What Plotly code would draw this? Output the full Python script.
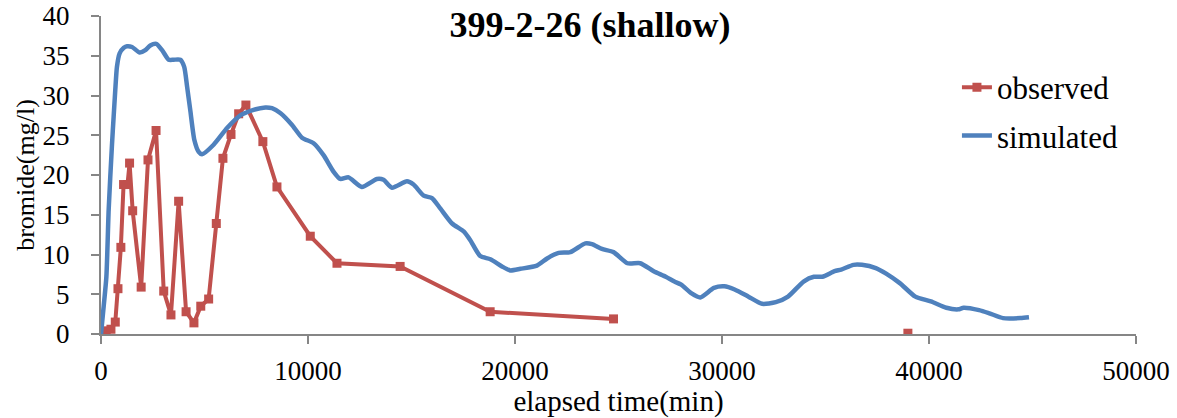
import plotly.graph_objects as go

# Observed data (elapsed time in min, bromide mg/l); None marks a gap in the line
obs_x = [0, 250, 480, 690, 820, 960, 1090, 1280, 1380, 1530, 1940, 2270, 2660, 3030,
         3380, 3750, 4110, 4490, 4820, 5200, 5570, 5890, 6280, 6650, 7000, 7820, 8500,
         10110, 11400, 14450, 18800, 24760, 31000, 38980]
obs_y = [0.2, 0.4, 0.6, 1.5, 5.7, 10.9, 18.8, 18.8, 21.5, 15.5, 5.9, 21.9, 25.6, 5.4,
         2.4, 16.7, 2.8, 1.4, 3.5, 4.4, 13.9, 22.1, 25.1, 27.7, 28.8, 24.2, 18.5,
         12.3, 8.9, 8.5, 2.8, 1.9, None, 0.1]

# Simulated curve
sim_x = [0, 130, 260, 370, 530, 610, 690, 770, 900, 1100, 1260, 1500, 1870, 2140, 2380,
         2670, 2950, 3270, 3510, 3830, 4020, 4160, 4310, 4510, 4720, 4880, 5440, 6090,
         6730, 7370, 7940, 8260, 8660, 9230, 9710, 10270, 10750, 11240, 11560, 11960,
         12600, 13330, 13650, 14060, 14780, 15100, 15590, 15990, 16390, 16960, 17520,
         17840, 18320, 18810, 19370, 19770, 20260, 21060, 21550, 22110, 22670, 23400,
         23720, 24200, 24760, 25430, 26050, 26700, 27280, 27700, 28030, 28530, 28950,
         29610, 30110, 30610, 31280, 31940, 32600, 33190, 33940, 34440, 34850, 35440,
         35760, 36350, 36760, 37430, 37930, 38590, 39340, 40090, 40840, 41420, 41670,
         42420, 42920, 43580, 44420, 44830]
sim_y = [0, 3.5, 7.2, 15.6, 23.8, 27.3, 30.7, 33.6, 35.3, 36.0, 36.2, 36.1, 35.4, 35.7,
         36.3, 36.5, 35.7, 34.5, 34.5, 34.5, 33.6, 31.1, 28.2, 24.4, 22.9, 22.6, 23.8,
         25.9, 27.5, 28.2, 28.5, 28.4, 27.8, 26.3, 24.7, 24.0, 22.5, 20.4, 19.5, 19.7,
         18.5, 19.5, 19.4, 18.4, 19.2, 18.8, 17.4, 17.1, 15.8, 13.9, 12.9, 11.8, 9.8,
         9.4, 8.5, 8.0, 8.2, 8.6, 9.5, 10.2, 10.3, 11.4, 11.3, 10.7, 10.3, 8.9, 8.9, 7.9,
         7.2, 6.6, 6.2, 5.1, 4.6, 5.8, 6.0, 5.6, 4.7, 3.8, 4.0, 4.7, 6.6, 7.2, 7.2, 7.9,
         8.1, 8.7, 8.7, 8.3, 7.6, 6.4, 4.7, 4.1, 3.3, 3.1, 3.3, 3.0, 2.6, 2.0, 2.0, 2.1]

x_ticks = [0, 10000, 20000, 30000, 40000, 50000]
y_ticks = [0, 5, 10, 15, 20, 25, 30, 35, 40]

RED = "#C0504D"
BLUE = "#4F81BD"
AXIS = "#868686"
FONT = "Liberation Serif"

fig = go.Figure()
fig.add_trace(go.Scatter(
    x=obs_x, y=obs_y, name="observed", mode="lines+markers",
    line=dict(color=RED, width=4),
    marker=dict(symbol="square", size=9, color=RED),
    connectgaps=False, legendgroup="a"))
fig.add_trace(go.Scatter(
    x=sim_x, y=sim_y, name="simulated", mode="lines",
    line=dict(color=BLUE, width=4.5, shape="spline", smoothing=0.6),
    legendgroup="b"))

fig.update_layout(
    width=1177, height=418,
    margin=dict(l=101, r=41, t=16, b=84),
    paper_bgcolor="white", plot_bgcolor="white",
    font=dict(family=FONT, color="black", size=26),
    title=dict(text="<b>399-2-26 (shallow)</b>", x=590 / 1177, xanchor="center",
               y=1 - 24 / 418, yanchor="middle",
               font=dict(family=FONT, size=36, color="black")),
    legend=dict(x=0.827, xanchor="left", y=0.86, yanchor="top",
                font=dict(family=FONT, size=31, color="black"),
                bgcolor="rgba(0,0,0,0)", tracegroupgap=5,
                traceorder="grouped"),
    xaxis=dict(range=[0, 50000], tickvals=x_ticks, ticktext=[str(v) for v in x_ticks],
               showgrid=False, zeroline=False, showline=True, linecolor=AXIS,
               linewidth=2, ticks="outside", ticklen=8, tickcolor=AXIS, tickwidth=1.5,
               tickfont=dict(family=FONT, size=27), ticklabelstandoff=4,
               automargin=False,
               title=dict(text="elapsed time(min)", standoff=0,
                          font=dict(family=FONT, size=29))),
    yaxis=dict(range=[0, 40], tickvals=y_ticks, ticktext=[str(v) for v in y_ticks],
               showgrid=False, zeroline=False, showline=True, linecolor=AXIS,
               linewidth=2, ticks="outside", ticklen=8, tickcolor=AXIS, tickwidth=1.5,
               tickfont=dict(family=FONT, size=27), ticklabelstandoff=16,
               automargin=False,
               title=dict(text="bromide(mg/l)", standoff=0,
                          font=dict(family=FONT, size=26))),
)

fig.write_html("out.html")
